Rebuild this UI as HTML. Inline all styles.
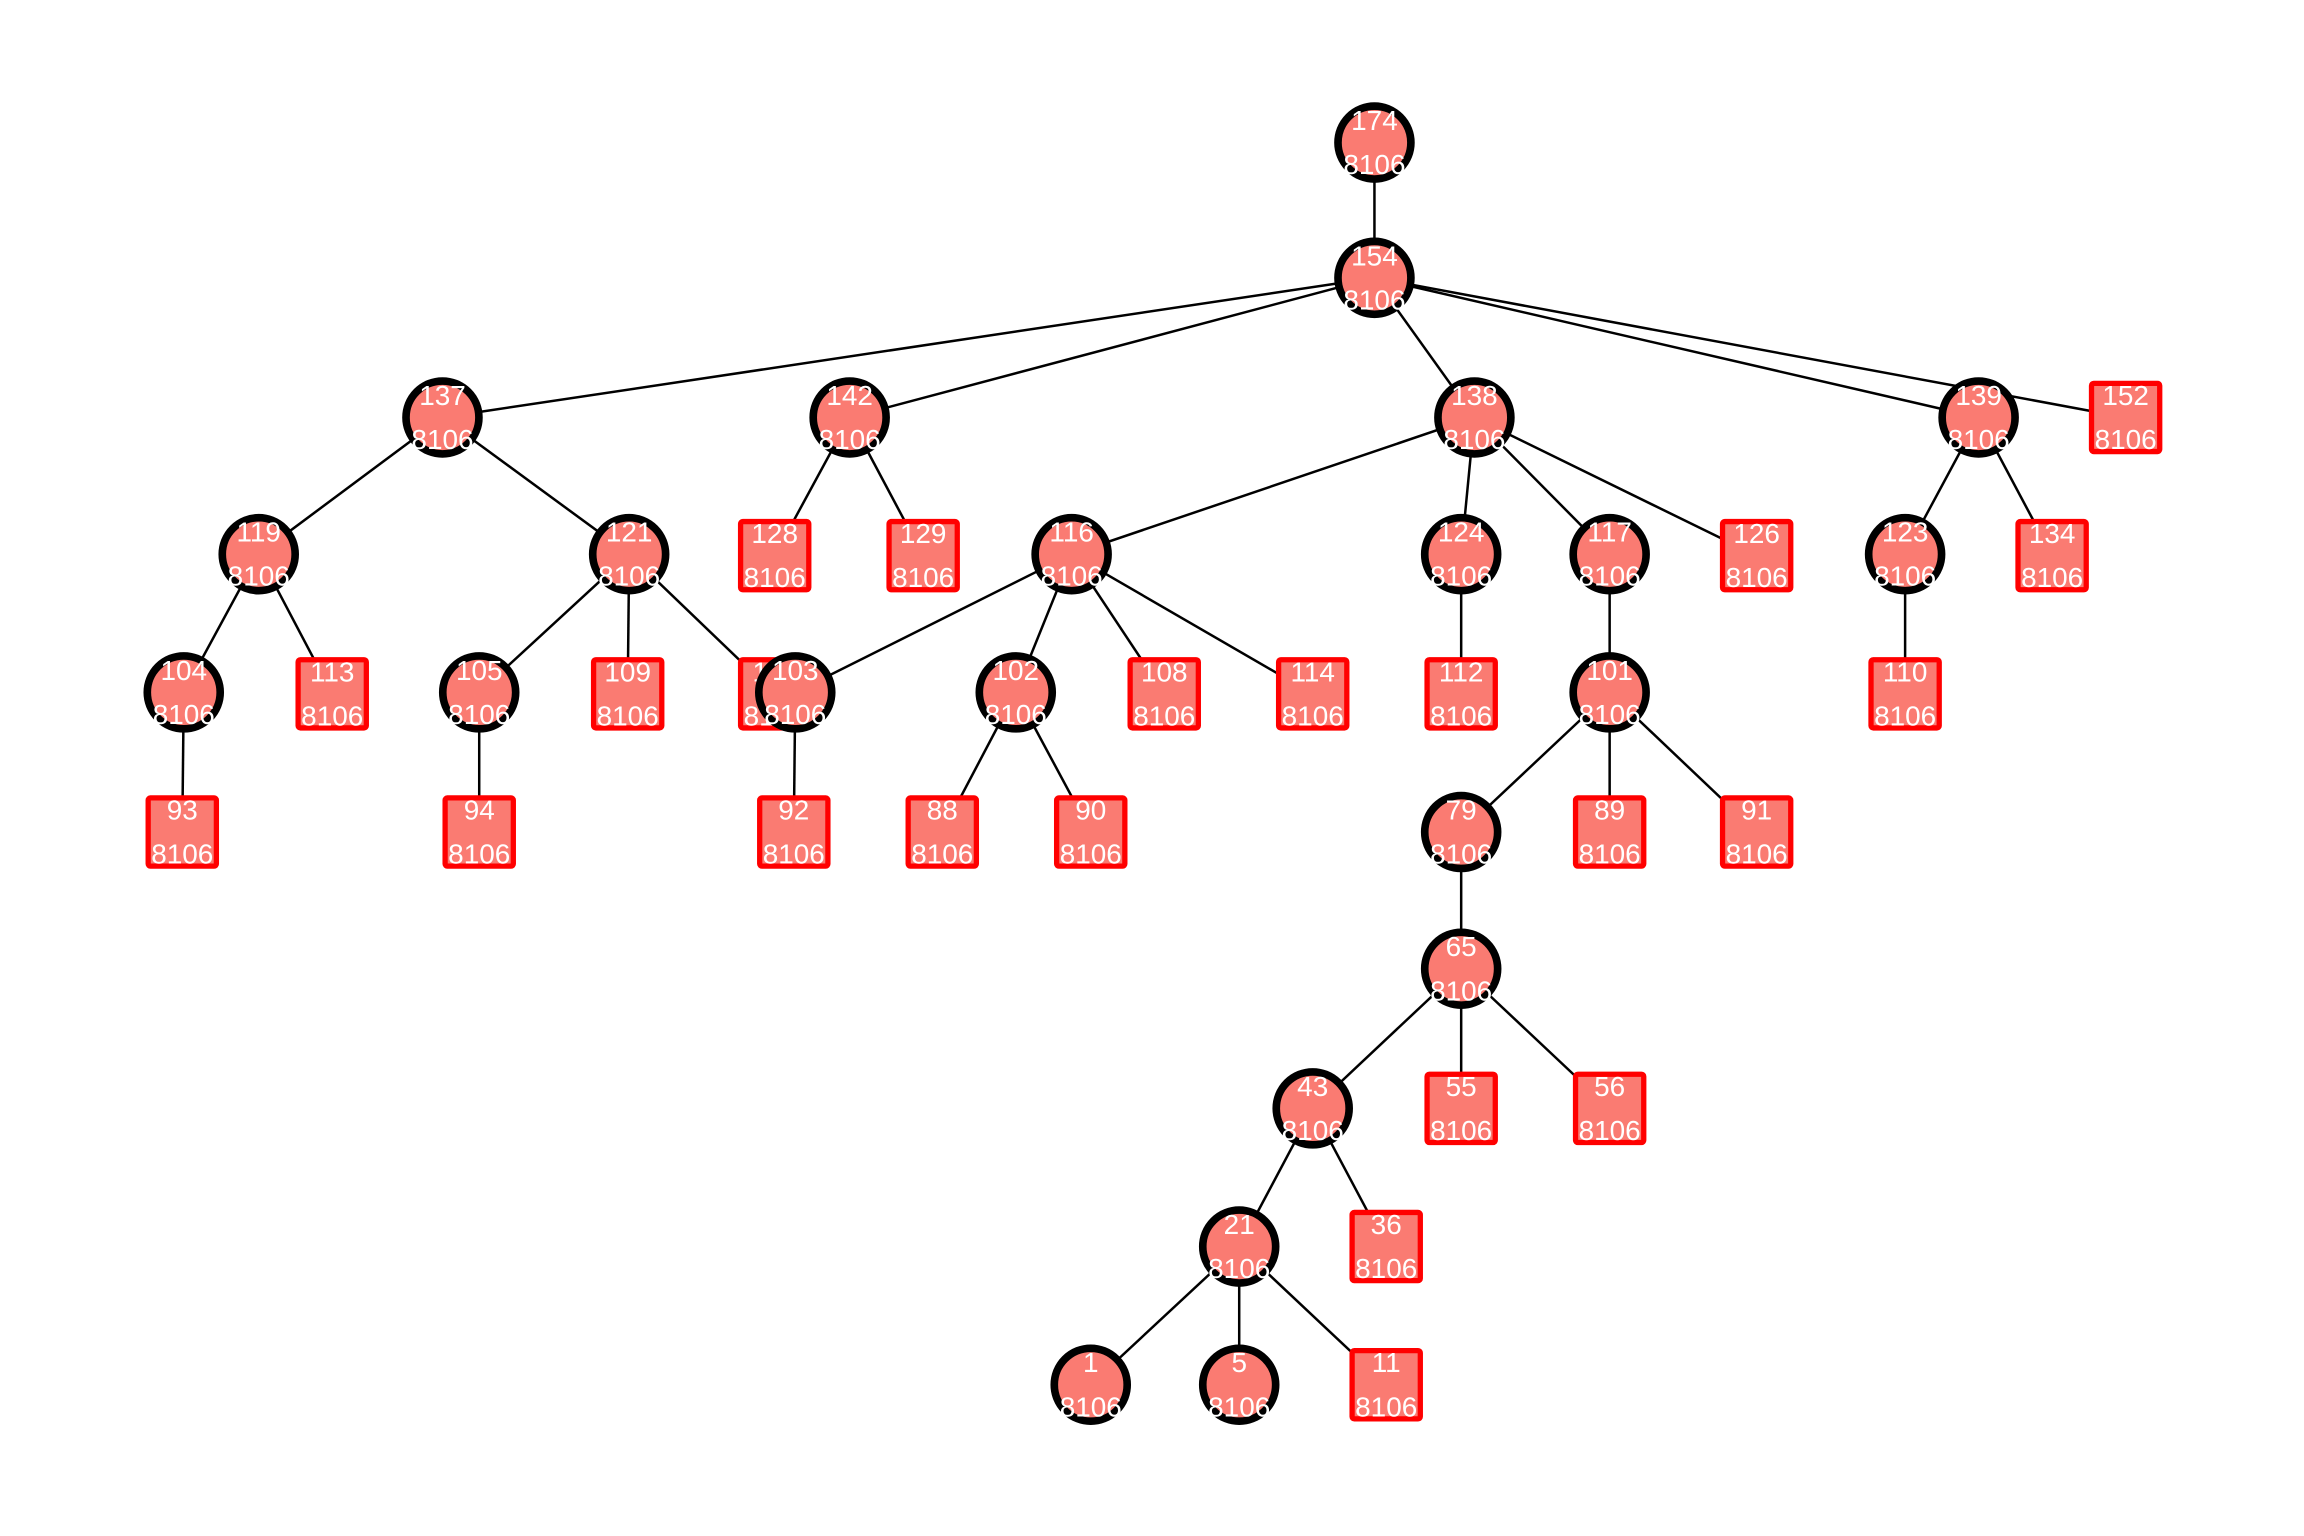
<!DOCTYPE html>
<html><head><meta charset="utf-8"><style>
html,body{margin:0;padding:0;background:#fff;}
svg{display:block;}
text{font-family:"Liberation Sans",Arial,sans-serif;font-size:19px;fill:#fff;text-anchor:middle;dominant-baseline:central;}
</style></head><body>
<svg width="2304" height="1536" viewBox="0 0 1567.35 1044.9" xmlns="http://www.w3.org/2000/svg">
<g stroke="#000" stroke-width="1.7" fill="none">
<line x1="935" y1="97" x2="935" y2="189"/>
<line x1="935" y1="189" x2="301" y2="284"/>
<line x1="935" y1="189" x2="578" y2="284"/>
<line x1="935" y1="189" x2="1003" y2="284"/>
<line x1="935" y1="189" x2="1346" y2="284"/>
<line x1="935" y1="189" x2="1446" y2="284"/>
<line x1="301" y1="284" x2="176" y2="377"/>
<line x1="301" y1="284" x2="428" y2="377"/>
<line x1="578" y1="284" x2="527" y2="378"/>
<line x1="578" y1="284" x2="628" y2="378"/>
<line x1="1003" y1="284" x2="729" y2="377"/>
<line x1="1003" y1="284" x2="994" y2="377"/>
<line x1="1003" y1="284" x2="1095" y2="377"/>
<line x1="1003" y1="284" x2="1195" y2="378"/>
<line x1="1346" y1="284" x2="1296" y2="377"/>
<line x1="1346" y1="284" x2="1396" y2="378"/>
<line x1="176" y1="377" x2="125" y2="471"/>
<line x1="176" y1="377" x2="226" y2="472"/>
<line x1="428" y1="377" x2="326" y2="471"/>
<line x1="428" y1="377" x2="427" y2="472"/>
<line x1="428" y1="377" x2="527" y2="472"/>
<line x1="729" y1="377" x2="541" y2="471"/>
<line x1="729" y1="377" x2="691" y2="471"/>
<line x1="729" y1="377" x2="792" y2="472"/>
<line x1="729" y1="377" x2="893" y2="472"/>
<line x1="994" y1="377" x2="994" y2="472"/>
<line x1="1095" y1="377" x2="1095" y2="471"/>
<line x1="1296" y1="377" x2="1296" y2="472"/>
<line x1="125" y1="471" x2="124" y2="566"/>
<line x1="326" y1="471" x2="326" y2="566"/>
<line x1="541" y1="471" x2="540" y2="566"/>
<line x1="691" y1="471" x2="641" y2="566"/>
<line x1="691" y1="471" x2="742" y2="566"/>
<line x1="1095" y1="471" x2="994" y2="566"/>
<line x1="1095" y1="471" x2="1095" y2="566"/>
<line x1="1095" y1="471" x2="1195" y2="566"/>
<line x1="994" y1="566" x2="994" y2="659"/>
<line x1="994" y1="659" x2="893" y2="754"/>
<line x1="994" y1="659" x2="994" y2="754"/>
<line x1="994" y1="659" x2="1095" y2="754"/>
<line x1="893" y1="754" x2="843" y2="848"/>
<line x1="893" y1="754" x2="943" y2="848"/>
<line x1="843" y1="848" x2="742" y2="942"/>
<line x1="843" y1="848" x2="843" y2="942"/>
<line x1="843" y1="848" x2="943" y2="942"/>
</g>
<defs>
<g id="c"><circle r="24.8" fill="#fa7b72" stroke="#000" stroke-width="5.2"/></g>
<g id="s"><rect x="-23.2" y="-23.2" width="46.4" height="46.4" rx="1.5" fill="#fa7b72" stroke="#ff0000" stroke-width="3.6"/></g>
</defs>
<g>
<use href="#s" x="1446" y="284"/><text x="1446" y="269">152</text><text x="1446" y="299">8106</text>
<use href="#s" x="527" y="378"/><text x="527" y="363">128</text><text x="527" y="393">8106</text>
<use href="#s" x="628" y="378"/><text x="628" y="363">129</text><text x="628" y="393">8106</text>
<use href="#s" x="1195" y="378"/><text x="1195" y="363">126</text><text x="1195" y="393">8106</text>
<use href="#s" x="1396" y="378"/><text x="1396" y="363">134</text><text x="1396" y="393">8106</text>
<use href="#s" x="226" y="472"/><text x="226" y="457">113</text><text x="226" y="487">8106</text>
<use href="#s" x="427" y="472"/><text x="427" y="457">109</text><text x="427" y="487">8106</text>
<use href="#s" x="527" y="472"/><text x="527" y="457">110</text><text x="527" y="487">8106</text>
<use href="#s" x="792" y="472"/><text x="792" y="457">108</text><text x="792" y="487">8106</text>
<use href="#s" x="893" y="472"/><text x="893" y="457">114</text><text x="893" y="487">8106</text>
<use href="#s" x="994" y="472"/><text x="994" y="457">112</text><text x="994" y="487">8106</text>
<use href="#s" x="1296" y="472"/><text x="1296" y="457">110</text><text x="1296" y="487">8106</text>
<use href="#s" x="124" y="566"/><text x="124" y="551">93</text><text x="124" y="581">8106</text>
<use href="#s" x="326" y="566"/><text x="326" y="551">94</text><text x="326" y="581">8106</text>
<use href="#s" x="540" y="566"/><text x="540" y="551">92</text><text x="540" y="581">8106</text>
<use href="#s" x="641" y="566"/><text x="641" y="551">88</text><text x="641" y="581">8106</text>
<use href="#s" x="742" y="566"/><text x="742" y="551">90</text><text x="742" y="581">8106</text>
<use href="#s" x="1095" y="566"/><text x="1095" y="551">89</text><text x="1095" y="581">8106</text>
<use href="#s" x="1195" y="566"/><text x="1195" y="551">91</text><text x="1195" y="581">8106</text>
<use href="#s" x="994" y="754"/><text x="994" y="739">55</text><text x="994" y="769">8106</text>
<use href="#s" x="1095" y="754"/><text x="1095" y="739">56</text><text x="1095" y="769">8106</text>
<use href="#s" x="943" y="848"/><text x="943" y="833">36</text><text x="943" y="863">8106</text>
<use href="#s" x="943" y="942"/><text x="943" y="927">11</text><text x="943" y="957">8106</text>
</g>
<g>
<use href="#c" x="935" y="97"/><text x="935" y="82">174</text><text x="935" y="112">8106</text>
<use href="#c" x="935" y="189"/><text x="935" y="174">154</text><text x="935" y="204">8106</text>
<use href="#c" x="301" y="284"/><text x="301" y="269">137</text><text x="301" y="299">8106</text>
<use href="#c" x="578" y="284"/><text x="578" y="269">142</text><text x="578" y="299">8106</text>
<use href="#c" x="1003" y="284"/><text x="1003" y="269">138</text><text x="1003" y="299">8106</text>
<use href="#c" x="1346" y="284"/><text x="1346" y="269">139</text><text x="1346" y="299">8106</text>
<use href="#c" x="176" y="377"/><text x="176" y="362">119</text><text x="176" y="392">8106</text>
<use href="#c" x="428" y="377"/><text x="428" y="362">121</text><text x="428" y="392">8106</text>
<use href="#c" x="729" y="377"/><text x="729" y="362">116</text><text x="729" y="392">8106</text>
<use href="#c" x="994" y="377"/><text x="994" y="362">124</text><text x="994" y="392">8106</text>
<use href="#c" x="1095" y="377"/><text x="1095" y="362">117</text><text x="1095" y="392">8106</text>
<use href="#c" x="1296" y="377"/><text x="1296" y="362">123</text><text x="1296" y="392">8106</text>
<use href="#c" x="125" y="471"/><text x="125" y="456">104</text><text x="125" y="486">8106</text>
<use href="#c" x="326" y="471"/><text x="326" y="456">105</text><text x="326" y="486">8106</text>
<use href="#c" x="541" y="471"/><text x="541" y="456">103</text><text x="541" y="486">8106</text>
<use href="#c" x="691" y="471"/><text x="691" y="456">102</text><text x="691" y="486">8106</text>
<use href="#c" x="1095" y="471"/><text x="1095" y="456">101</text><text x="1095" y="486">8106</text>
<use href="#c" x="994" y="566"/><text x="994" y="551">79</text><text x="994" y="581">8106</text>
<use href="#c" x="994" y="659"/><text x="994" y="644">65</text><text x="994" y="674">8106</text>
<use href="#c" x="893" y="754"/><text x="893" y="739">43</text><text x="893" y="769">8106</text>
<use href="#c" x="843" y="848"/><text x="843" y="833">21</text><text x="843" y="863">8106</text>
<use href="#c" x="742" y="942"/><text x="742" y="927">1</text><text x="742" y="957">8106</text>
<use href="#c" x="843" y="942"/><text x="843" y="927">5</text><text x="843" y="957">8106</text>
</g>
</svg>
</body></html>
